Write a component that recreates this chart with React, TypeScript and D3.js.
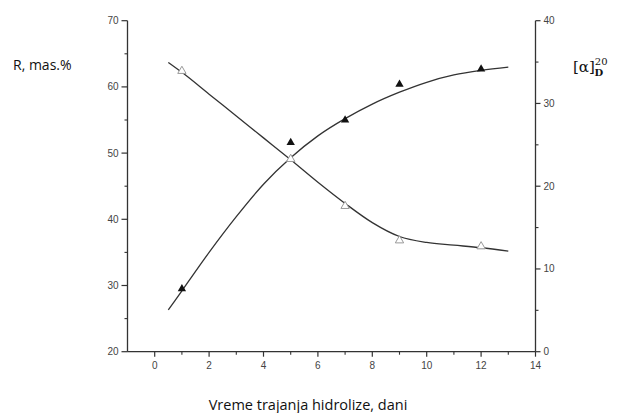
import React from "react";
import * as d3 from "d3";

// Measured points
const daysPts = [1, 5, 7, 9, 12];
const rPts = [29.5, 51.6, 55.0, 60.4, 62.7]; // filled triangles (left axis)
const rPtsOpen = [62.4, 49.1, 42.0, 36.8, 35.9]; // open triangles (left-axis units)

// Fitted curves
const curveX = [0.5, 1, 2, 3, 4, 5, 6, 7, 8, 9, 10, 11, 12, 13];
const riseY = [26.3, 29.2, 35.0, 40.4, 45.3, 49.3, 52.6, 55.2, 57.4, 59.2, 60.7, 61.8, 62.5, 63.0];
const fallY = [63.7, 62.2, 58.9, 55.6, 52.3, 49.0, 45.6, 42.4, 39.5, 37.4, 36.5, 36.1, 35.7, 35.2];

const xTicks = [0, 2, 4, 6, 8, 10, 12, 14];
const xMinor = [1, 3, 5, 7, 9, 11, 13];
const leftTicks = [20, 30, 40, 50, 60, 70];
const leftMinor = [25, 35, 45, 55, 65];
const rightTicks = [0, 10, 20, 30, 40];
const rightMinor = [5, 15, 25, 35];

export default function App() {
  const W = 617, H = 413;
  const L = 127.5, R = 535.5, T = 20.7, B = 351.7;
  const x = d3.scaleLinear().domain([-1, 14]).range([L, R]);
  const yL = d3.scaleLinear().domain([20, 70]).range([B, T]);
  const yR = d3.scaleLinear().domain([0, 40]).range([B, T]);
  const line = d3
    .line<[number, number]>()
    .x((d) => x(d[0]))
    .y((d) => yL(d[1]))
    .curve(d3.curveMonotoneX);
  const rise = line(curveX.map((v, i) => [v, riseY[i]] as [number, number])) || "";
  const fall = line(curveX.map((v, i) => [v, fallY[i]] as [number, number])) || "";
  const tri = d3.symbol().type(d3.symbolTriangle).size(30)() || "";
  const axisCol = "#333";
  const tickFont = { fontFamily: "Liberation Sans, Arial, sans-serif", fontSize: 10, fill: "#444" };
  return (
    <svg width={W} height={H} style={{ position: "absolute", left: 0, top: 0, background: "#fff" }}>
      <line x1={L} x2={L} y1={T} y2={B} stroke={axisCol} strokeWidth={1.3} />
      <line x1={L} x2={R} y1={B} y2={B} stroke={axisCol} strokeWidth={1.3} />
      <line x1={R} x2={R} y1={T} y2={B} stroke={axisCol} strokeWidth={1.3} />
      {xTicks.map((t) => (
        <g key={"x" + t}>
          <line x1={x(t)} x2={x(t)} y1={B} y2={B + 5} stroke={axisCol} strokeWidth={1.2} />
          <text x={x(t)} y={B + 17} textAnchor="middle" {...tickFont}>{t}</text>
        </g>
      ))}
      {xMinor.map((t) => (
        <line key={"xm" + t} x1={x(t)} x2={x(t)} y1={B} y2={B + 3} stroke={axisCol} strokeWidth={1.1} />
      ))}
      {leftTicks.map((t) => (
        <g key={"l" + t}>
          <line x1={L - 6} x2={L} y1={yL(t)} y2={yL(t)} stroke={axisCol} strokeWidth={1.2} />
          <text x={L - 9} y={yL(t) + 3.5} textAnchor="end" {...tickFont}>{t}</text>
        </g>
      ))}
      {leftMinor.map((t) => (
        <line key={"lm" + t} x1={L - 3} x2={L} y1={yL(t)} y2={yL(t)} stroke={axisCol} strokeWidth={1.1} />
      ))}
      {rightTicks.map((t) => (
        <g key={"r" + t}>
          <line x1={R} x2={R + 5} y1={yR(t)} y2={yR(t)} stroke={axisCol} strokeWidth={1.2} />
          <text x={R + 8} y={yR(t) + 3.5} textAnchor="start" {...tickFont}>{t}</text>
        </g>
      ))}
      {rightMinor.map((t) => (
        <line key={"rm" + t} x1={R} x2={R + 3} y1={yR(t)} y2={yR(t)} stroke={axisCol} strokeWidth={1.1} />
      ))}
      <path d={rise} fill="none" stroke="#333" strokeWidth={1.3} />
      <path d={fall} fill="none" stroke="#333" strokeWidth={1.3} />
      {daysPts.map((d, i) => (
        <path key={"f" + i} d={tri} transform={`translate(${x(d)},${yL(rPts[i])})`} fill="#111" />
      ))}
      {daysPts.map((d, i) => (
        <path key={"o" + i} d={tri} transform={`translate(${x(d)},${yL(rPtsOpen[i])})`} fill="#fff" stroke="#999" strokeWidth={1} />
      ))}
      <text x={13} y={70} fontFamily="Open Sans, sans-serif" fontSize={14} fill="#111">R, mas.%</text>
      <text x={573} y={72} fontFamily="DejaVu Serif, serif" fontSize={15} fill="#111">
        [α]
        <tspan fontSize={10} dy={-7}>20</tspan>
        <tspan fontSize={10} fontWeight="bold" dx={-13} dy={11}>D</tspan>
      </text>
      <text x={308} y={410} textAnchor="middle" fontFamily="Open Sans, sans-serif" fontSize={14.5} fill="#111">
        Vreme trajanja hidrolize, dani
      </text>
    </svg>
  );
}
